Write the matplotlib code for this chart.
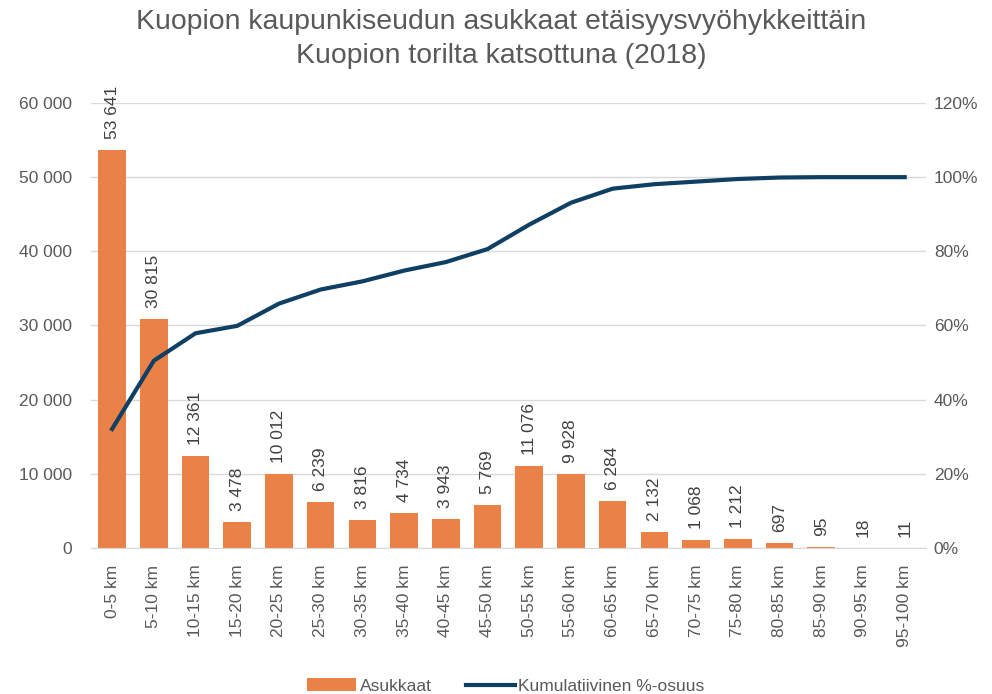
import matplotlib
matplotlib.use("agg")
import matplotlib.pyplot as plt
from matplotlib.ticker import FuncFormatter

categories = ["0-5 km", "5-10 km", "10-15 km", "15-20 km", "20-25 km", "25-30 km",
              "30-35 km", "35-40 km", "40-45 km", "45-50 km", "50-55 km", "55-60 km",
              "60-65 km", "65-70 km", "70-75 km", "75-80 km", "80-85 km", "85-90 km",
              "90-95 km", "95-100 km"]
asukkaat = [53641, 30815, 12361, 3478, 10012, 6239, 3816, 4734, 3943, 5769,
            11076, 9928, 6284, 2132, 1068, 1212, 697, 95, 18, 11]
kumulatiivinen = [32.1, 50.5, 57.9, 59.9, 65.9, 69.7, 71.9, 74.8, 77.1, 80.6,
                  87.2, 93.1, 96.9, 98.1, 98.8, 99.5, 99.9, 100.0, 100.0, 100.0]

plt.rcParams['font.family'] = ['Liberation Sans', 'DejaVu Sans']
textcol = "#595959"
orange = "#EA8248"
navy = "#0F3F63"

fig = plt.figure(figsize=(9.92, 6.94), dpi=100)
ax = fig.add_axes([0.092, 0.2104, 0.841, 0.6412])
x = list(range(len(categories)))
bars = ax.bar(x, asukkaat, width=0.66, color=orange, zorder=2, label="Asukkaat")
ax.set_xlim(-0.5, len(categories) - 0.5)
ax.set_ylim(0, 60000)
ax.set_yticks(range(0, 60001, 10000))
ax.yaxis.set_major_formatter(FuncFormatter(lambda v, p: f"{int(v):,}".replace(",", " ")))
ax.grid(axis="y", color="#D9D9D9", linewidth=1, zorder=0)
for s in ["top", "right", "left"]:
    ax.spines[s].set_visible(False)
ax.spines["bottom"].set_color("#D9D9D9")
ax.tick_params(axis="both", length=0, colors=textcol, labelsize=12.5)
ax.tick_params(axis="y", pad=14)
ax.tick_params(axis="x", pad=12)
ax.set_xticks(x)
ax.set_xticklabels(categories, rotation=90)

for xi, v in zip(x, asukkaat):
    ax.annotate(f"{v:,}".replace(",", " "), (xi, v), xytext=(0, 8), textcoords="offset points",
                rotation=90, ha="center", va="bottom", fontsize=12.5, color="#404040")

ax2 = ax.twinx()
line, = ax2.plot(x, kumulatiivinen, color=navy, linewidth=3, zorder=3,
                 label="Kumulatiivinen %-osuus")
ax2.set_ylim(0, 120)
ax2.set_yticks(range(0, 121, 20))
ax2.yaxis.set_major_formatter(FuncFormatter(lambda v, p: f"{int(v)}%"))
for s in ["top", "right", "left", "bottom"]:
    ax2.spines[s].set_visible(False)
ax2.tick_params(axis="y", length=0, colors=textcol, labelsize=12.5, pad=6)

fig.text(0.505, 0.987, "Kuopion kaupunkiseudun asukkaat etäisyysvyöhykkeittäin\nKuopion torilta katsottuna (2018)",
         ha="center", va="top", fontsize=20.4, color=textcol, linespacing=1.4)

fig.legend([bars, line], ["Asukkaat", "Kumulatiivinen %-osuus"], loc="lower center",
           bbox_to_anchor=(0.51, -0.022), ncol=2, frameon=False, fontsize=12.5,
           labelcolor=textcol, handlelength=2.8, columnspacing=2.0, handletextpad=0.2)

fig.savefig("out.png", dpi=100, facecolor="w")
